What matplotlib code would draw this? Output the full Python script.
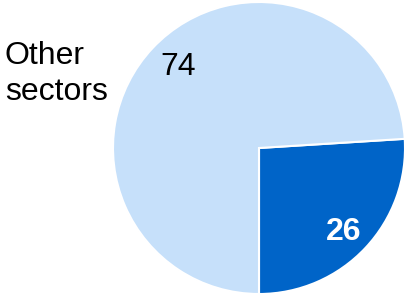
import matplotlib
matplotlib.use("Agg")
import matplotlib.pyplot as plt

# ── Data ──────────────────────────────────────────────────────────────────────
labels = ["Sector", "Other sectors"]
shares = [26, 74]
colors = ["#0064C8", "#C6E0FA"]

plt.rcParams["font.family"] = ["Liberation Sans", "DejaVu Sans"]

W, H = 407, 293
fig = plt.figure(figsize=(W / 100, H / 100), dpi=100)
ax = fig.add_axes([0, 0, 1, 1])

# ── Pie ───────────────────────────────────────────────────────────────────────
cx, cy, r = 259, 145, 146
wedges, _ = ax.pie(shares, colors=colors, startangle=3.6, counterclock=False,
                   center=(cx, cy), radius=r, explode=[0.012, 0],
                   wedgeprops=dict(edgecolor="white", linewidth=1.5),
                   frame=True)
ax.set_xlim(0, W)
ax.set_ylim(0, H)
ax.set_aspect("equal")
ax.axis("off")

# ── Labels ────────────────────────────────────────────────────────────────────
ax.text(344, H - 232, f"{shares[0]}", color="white", fontsize=23,
        fontweight="bold", ha="center", va="center")
ax.text(178, H - 67, f"{shares[1]}", color="black", fontsize=23,
        ha="center", va="center")
ax.text(5, H - 74, labels[1].replace(" ", "\n"), color="black", fontsize=23,
        ha="left", va="center", linespacing=1.25)

fig.savefig("out.png", dpi=100)
